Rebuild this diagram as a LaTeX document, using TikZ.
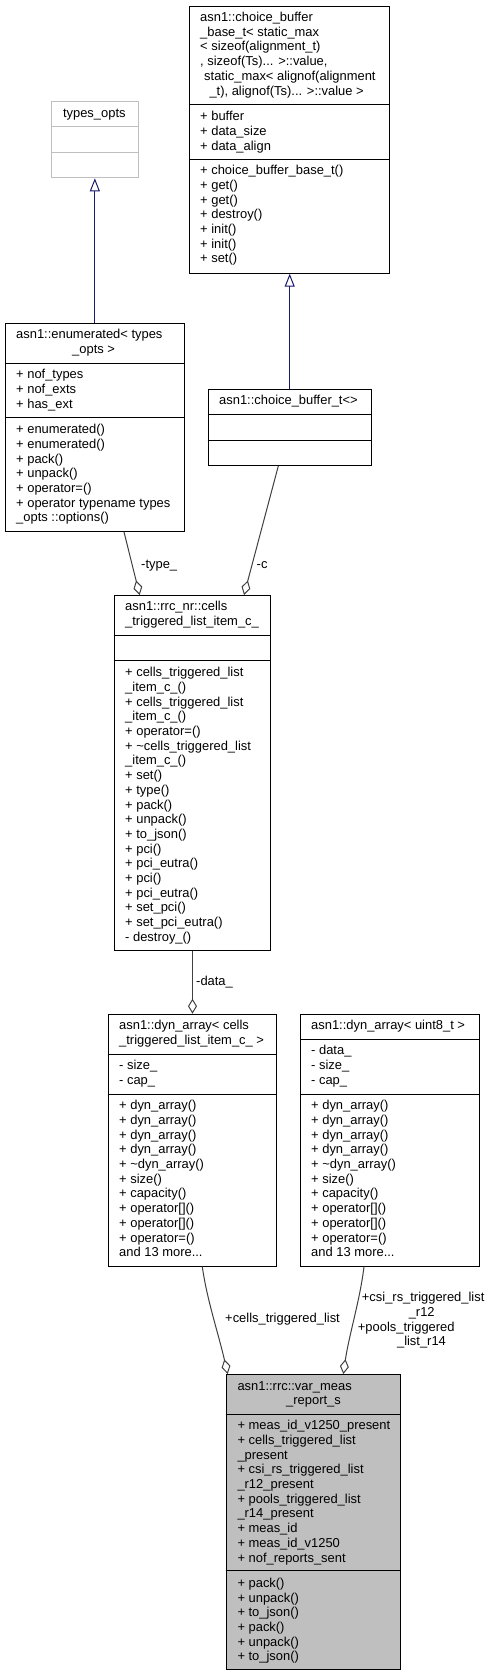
\documentclass[tikz,border=0pt]{standalone}
\usepackage{fontspec}
\setmainfont{Liberation Sans}
\usetikzlibrary{arrows.meta}
\definecolor{edgec}{HTML}{404040}
\definecolor{inhc}{HTML}{191970}
\definecolor{greyS}{HTML}{BFBFBF}
\newcommand\fs{\fontsize{12.93}{14.68}\selectfont}
\newcommand\dd{...}
\tikzset{
  cls/.style={draw=black, line width=1pt, inner sep=0pt, anchor=north west},
  lbl/.style={anchor=base west, inner sep=0pt, font=\fs},
  clbl/.style={anchor=base, inner sep=0pt, font=\fs},
  usearrow/.style={draw=edgec, line width=1pt, -{Diamond[open,length=15pt,width=9pt]}},
  inharrow/.style={draw=inhc, line width=1pt, -{Triangle[open,length=13pt,width=10pt]}},
}
% name, x1, y1, x2, y2, separators, border colour, fill
\newcommand\cbox[8]{%
  \node[cls, draw=#7, fill=#8, minimum width={(#4-#2)*1pt}, minimum height={(#5-#3)*1pt}] (#1) at (#2,#3) {};
  \foreach \sy in {#6} {\draw[draw=#7, line width=1pt] (#2,\sy) -- (#4,\sy);}
}
\newcommand\tlines[3]{%
  \foreach \myline [count=\i from 0] in {#3} {\node[lbl] at (#1,{#2+\i*14.68}) {\myline};}
}
\begin{document}
\begin{tikzpicture}[x=1pt,y=-1pt]
\useasboundingbox (0,0) rectangle (492,1676);
\fill[white] (0,0) rectangle (492,1676);

% types_opts
\cbox{types}{50.7}{100.7}{138}{177.3}{126.7,152}{greyS}{white}
\node[clbl] (typesT) at (94.3,117.5) {types\_opts};

% choice_buffer_base_t
\cbox{cbb}{189}{5.7}{389.3}{272.7}{104.7,159.3}{black}{white}
\tlines{200}{21.5}{{asn1::choice\_buffer},{\_base\_t< static\_max},{< sizeof(alignment\_t)},{, sizeof(Ts)\dd{} >::value,}}
\node[lbl] at (204,80.9) {static\_max< alignof(alignment};
\node[lbl] at (209.3,95.6) {\_t), alignof(Ts)\dd{} >::value >};
\tlines{200}{120.9}{{+ buffer},{+ data\_size},{+ data\_align}}
\tlines{200}{174.9}{{+ choice\_buffer\_base\_t()},{+ get()},{+ get()},{+ destroy()},{+ init()},{+ init()},{+ set()}}

% enumerated
\cbox{enum}{4.7}{323}{184}{531}{363,417.7}{black}{white}
\node[lbl] at (16,338.9) {asn1::enumerated< types};
\node[lbl] at (72,353.6) {\_opts >};
\tlines{16}{378.9}{{+ nof\_types},{+ nof\_exts},{+ has\_ext}}
\tlines{16}{433.9}{{+ enumerated()},{+ enumerated()},{+ pack()},{+ unpack()},{+ operator=()},{+ operator typename types},{\_opts ::options()}}

% choice_buffer_t
\cbox{cbt}{207.7}{389}{370.7}{465}{414.7,440}{black}{white}
\node[lbl] at (219,404.9) {asn1::choice\_buffer\_t<>};

% cells_triggered_list_item_c_
\cbox{cells}{114}{595}{270}{950}{635,660.3}{black}{white}
\tlines{125}{610.9}{{asn1::rrc\_nr::cells},{\_triggered\_list\_item\_c\_}}
\tlines{125}{676.9}{{+ cells\_triggered\_list},{\_item\_c\_()},{+ cells\_triggered\_list},{\_item\_c\_()},{+ operator=()},{+ \textasciitilde cells\_triggered\_list},{\_item\_c\_()},{+ set()},{+ type()},{+ pack()},{+ unpack()},{+ to\_json()},{+ pci()},{+ pci\_eutra()},{+ pci()},{+ pci\_eutra()},{+ set\_pci()},{+ set\_pci\_eutra()},{- destroy\_()}}

% dyn_array< cells_triggered_list_item_c_ >
\cbox{dync}{107.7}{1013.7}{276}{1265.7}{1054,1094}{black}{white}
\tlines{119}{1029.9}{{asn1::dyn\_array< cells},{\_triggered\_list\_item\_c\_ >}}
\tlines{119}{1069.9}{{- size\_},{- cap\_}}
\tlines{119}{1109.9}{{+ dyn\_array()},{+ dyn\_array()},{+ dyn\_array()},{+ dyn\_array()},{+ \textasciitilde dyn\_array()},{+ size()},{+ capacity()},{+ operator[]()},{+ operator[]()},{+ operator=()},{and 13 more\dd}}

% dyn_array< uint8_t >
\cbox{dynu}{300}{1013.7}{478.7}{1265.7}{1039.3,1094}{black}{white}
\node[lbl] at (311,1029.9) {asn1::dyn\_array< uint8\_t >};
\tlines{311}{1054.9}{{- data\_},{- size\_},{- cap\_}}
\tlines{311}{1109.9}{{+ dyn\_array()},{+ dyn\_array()},{+ dyn\_array()},{+ dyn\_array()},{+ \textasciitilde dyn\_array()},{+ size()},{+ capacity()},{+ operator[]()},{+ operator[]()},{+ operator=()},{and 13 more\dd}}

% var_meas_report_s
\cbox{var}{225.7}{1374}{400.3}{1669.3}{1414,1570.7}{black}{greyS}
\node[lbl] at (237.3,1390.2) {asn1::rrc::var\_meas};
\node[lbl] at (286,1404.9) {\_report\_s};
\tlines{237.3}{1429.9}{{+ meas\_id\_v1250\_present},{+ cells\_triggered\_list},{\_present},{+ csi\_rs\_triggered\_list},{\_r12\_present},{+ pools\_triggered\_list},{\_r14\_present},{+ meas\_id},{+ meas\_id\_v1250},{+ nof\_reports\_sent}}
\tlines{237.3}{1587.5}{{+ pack()},{+ unpack()},{+ to\_json()},{+ pack()},{+ unpack()},{+ to\_json()}}

% inheritance
\draw[inharrow] (enum.north -| types.south) -- (types.south);
\draw[inharrow] (cbt.north) -- (cbt.north |- cbb.south);

% usage
\draw[usearrow] ([xshift=119.3pt]enum.south west) -- ([xshift=25.7pt]cells.north west);
\draw[usearrow] ([xshift=70.6pt]cbt.south west) -- ([xshift=130pt]cells.north west);
\draw[usearrow] (cells.south) -- (cells.south |- dync.north);
\draw[usearrow] ([xshift=94.6pt]dync.south west) .. controls (207,1300) and (218,1332) .. ([xshift=2pt]var.north west);
\draw[usearrow] ([xshift=64pt]dynu.south west) .. controls (360,1300) and (349,1335) .. ([xshift=117.6pt]var.north west);

% edge labels
\node[lbl] (Ltype) at (141,568) {-type\_};
\node[lbl] (Lc) at (256.5,568) {-c};
\node[lbl] (Ldata) at (196,985) {-data\_};
\node[lbl] (Lcells) at (225,1322.5) {+cells\_triggered\_list};
\node[lbl] (Lcsi) at (361.7,1301) {+csi\_rs\_triggered\_list};
\node[clbl] (Lcsib) at (421.7,1316) {\_r12};
\node[lbl] (Lpools) at (357.7,1331) {+pools\_triggered};
\node[clbl] (Lpoolsb) at (421.5,1345.5) {\_list\_r14};
\end{tikzpicture}
\end{document}
